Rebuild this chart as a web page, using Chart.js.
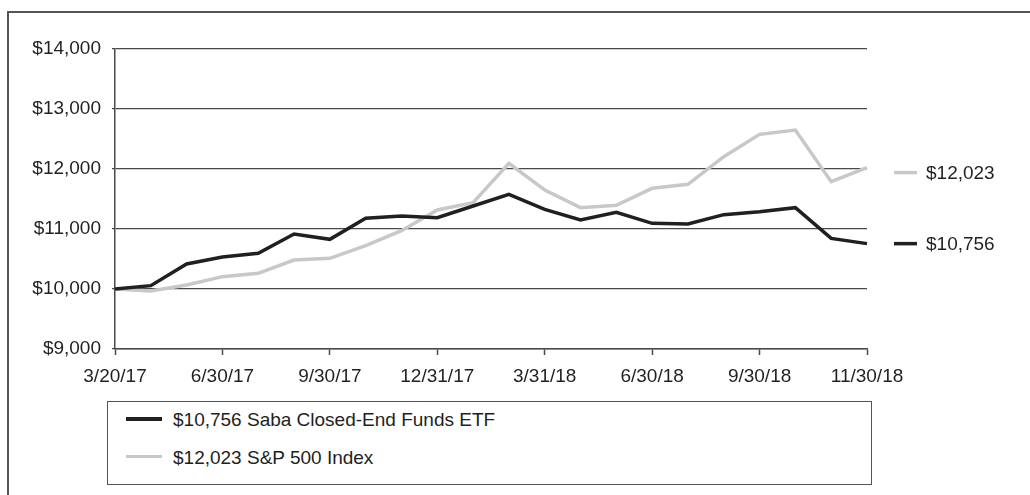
<!DOCTYPE html>
<html>
<head>
<meta charset="utf-8">
<script src="https://cdn.jsdelivr.net/npm/chart.js@4"></script>
<style>
  body { margin: 0; background: #fff; font-family: "Liberation Sans", Arial, sans-serif; }
  #wrap { position: relative; width: 1030px; height: 495px; overflow: hidden; }
  #frame { position: absolute; left: 7px; top: 11px; width: 1100px; height: 600px; border: 2px solid #555; }
  #myChart { position: absolute; left: 0; top: 0; }
  #legend { position: absolute; left: 107px; top: 401px; width: 763px; height: 82px; border: 1.5px solid #555; background: #fff; }
  .item { position: absolute; left: 18px; font-size: 19px; color: #231f20; line-height: 20px; }
  .item span { display: inline-block; width: 36px; height: 3.5px; vertical-align: middle; margin-right: 11px; position: relative; top: -2px; }
</style>
</head>
<body>
<div id="wrap">
  <div id="frame"></div>
  <canvas id="myChart" width="1030" height="495"></canvas>
  <div id="legend"></div>
</div>
<script>
"use strict";

// tick labels, one per month point (blank = no label)
const categories = ["3/20/17", "", "", "6/30/17", "", "", "9/30/17", "", "", "12/31/17", "", "",
    "3/31/18", "", "", "6/30/18", "", "", "9/30/18", "", "", "11/30/18"];

const sabaValues = [10000, 10056, 10417, 10533, 10594, 10917, 10828, 11178, 11217, 11189, 11383,
    11578, 11328, 11150, 11278, 11094, 11083, 11239, 11289, 11356, 10844, 10756];

const spValues = [10000, 9967, 10067, 10206, 10261, 10483, 10511, 10722, 10972, 11317, 11439,
    12094, 11650, 11356, 11394, 11678, 11744, 12206, 12578, 12650, 11789, 12023];

const seriesNames = ["$10,756 Saba Closed-End Funds ETF", "$12,023 S&P 500 Index"];
const endLabels = ["$10,756", "$12,023"];

const dark = "#231f20";
const light = "#c8c8c8";
const axisGray = "#4a4a4a";
const font = { family: "'Liberation Sans', Arial, sans-serif", size: 19 };

// end-of-line value labels on the right
const endLabelPlugin = {
    id: "endLabels",
    afterDatasetsDraw(chart) {
        const ctx = chart.ctx;
        const right = chart.chartArea.right;
        chart.data.datasets.forEach((ds, i) => {
            const meta = chart.getDatasetMeta(i);
            const pt = meta.data[meta.data.length - 1];
            const y = pt.y + (i === 1 ? 5 : 0); // gray label sits a bit lower in the original
            ctx.save();
            ctx.strokeStyle = ds.borderColor;
            ctx.lineWidth = 3.5;
            ctx.beginPath();
            ctx.moveTo(right + 27, y);
            ctx.lineTo(right + 50, y);
            ctx.stroke();
            ctx.fillStyle = dark;
            ctx.font = font.size + "px " + font.family;
            ctx.textBaseline = "middle";
            ctx.fillText(endLabels[i], right + 59, y + 1);
            ctx.restore();
        });
    }
};

const chartDiv = document.getElementById("myChart");

new Chart(chartDiv, {
    type: "line",
    data: {
        labels: categories,
        datasets: [{
            label: seriesNames[0],
            data: sabaValues,
            borderColor: dark,
            borderWidth: 3.5,
            pointRadius: 0,
            tension: 0
        }, {
            label: seriesNames[1],
            data: spValues,
            borderColor: light,
            borderWidth: 3.5,
            pointRadius: 0,
            tension: 0
        }]
    },
    options: {
        responsive: false,
        devicePixelRatio: 1,
        animation: false,
        layout: { padding: { top: 49, right: 163, bottom: 106, left: 0 } },
        plugins: { legend: { display: false }, tooltip: { enabled: false } },
        scales: {
            x: {
                grid: {
                    drawOnChartArea: false,
                    tickLength: 6,
                    tickWidth: 1.5,
                    tickColor: c => (c.tick && c.tick.label) ? axisGray : "rgba(0,0,0,0)"
                },
                border: { color: axisGray, width: 1.5 },
                ticks: { autoSkip: false, maxRotation: 0, padding: 10, color: dark, font: font },
                afterFit: s => { s.height = 40; }
            },
            y: {
                min: 9000,
                max: 14000,
                grid: { color: axisGray, lineWidth: 1.2, tickLength: 3 },
                border: { color: axisGray, width: 1.5 },
                ticks: {
                    stepSize: 1000,
                    padding: 11,
                    color: dark,
                    font: font,
                    callback: v => "$" + v.toLocaleString("en-US")
                },
                afterFit: s => { s.width = 115; }
            }
        }
    },
    plugins: [endLabelPlugin]
});

// boxed legend below the plot
const legendDiv = document.getElementById("legend");
[dark, light].forEach((col, i) => {
    const it = document.createElement("div");
    it.className = "item";
    it.style.top = (8 + i * 37.5) + "px";
    const sw = document.createElement("span");
    sw.style.background = col;
    it.appendChild(sw);
    it.appendChild(document.createTextNode(seriesNames[i]));
    legendDiv.appendChild(it);
});
</script>
</body>
</html>
